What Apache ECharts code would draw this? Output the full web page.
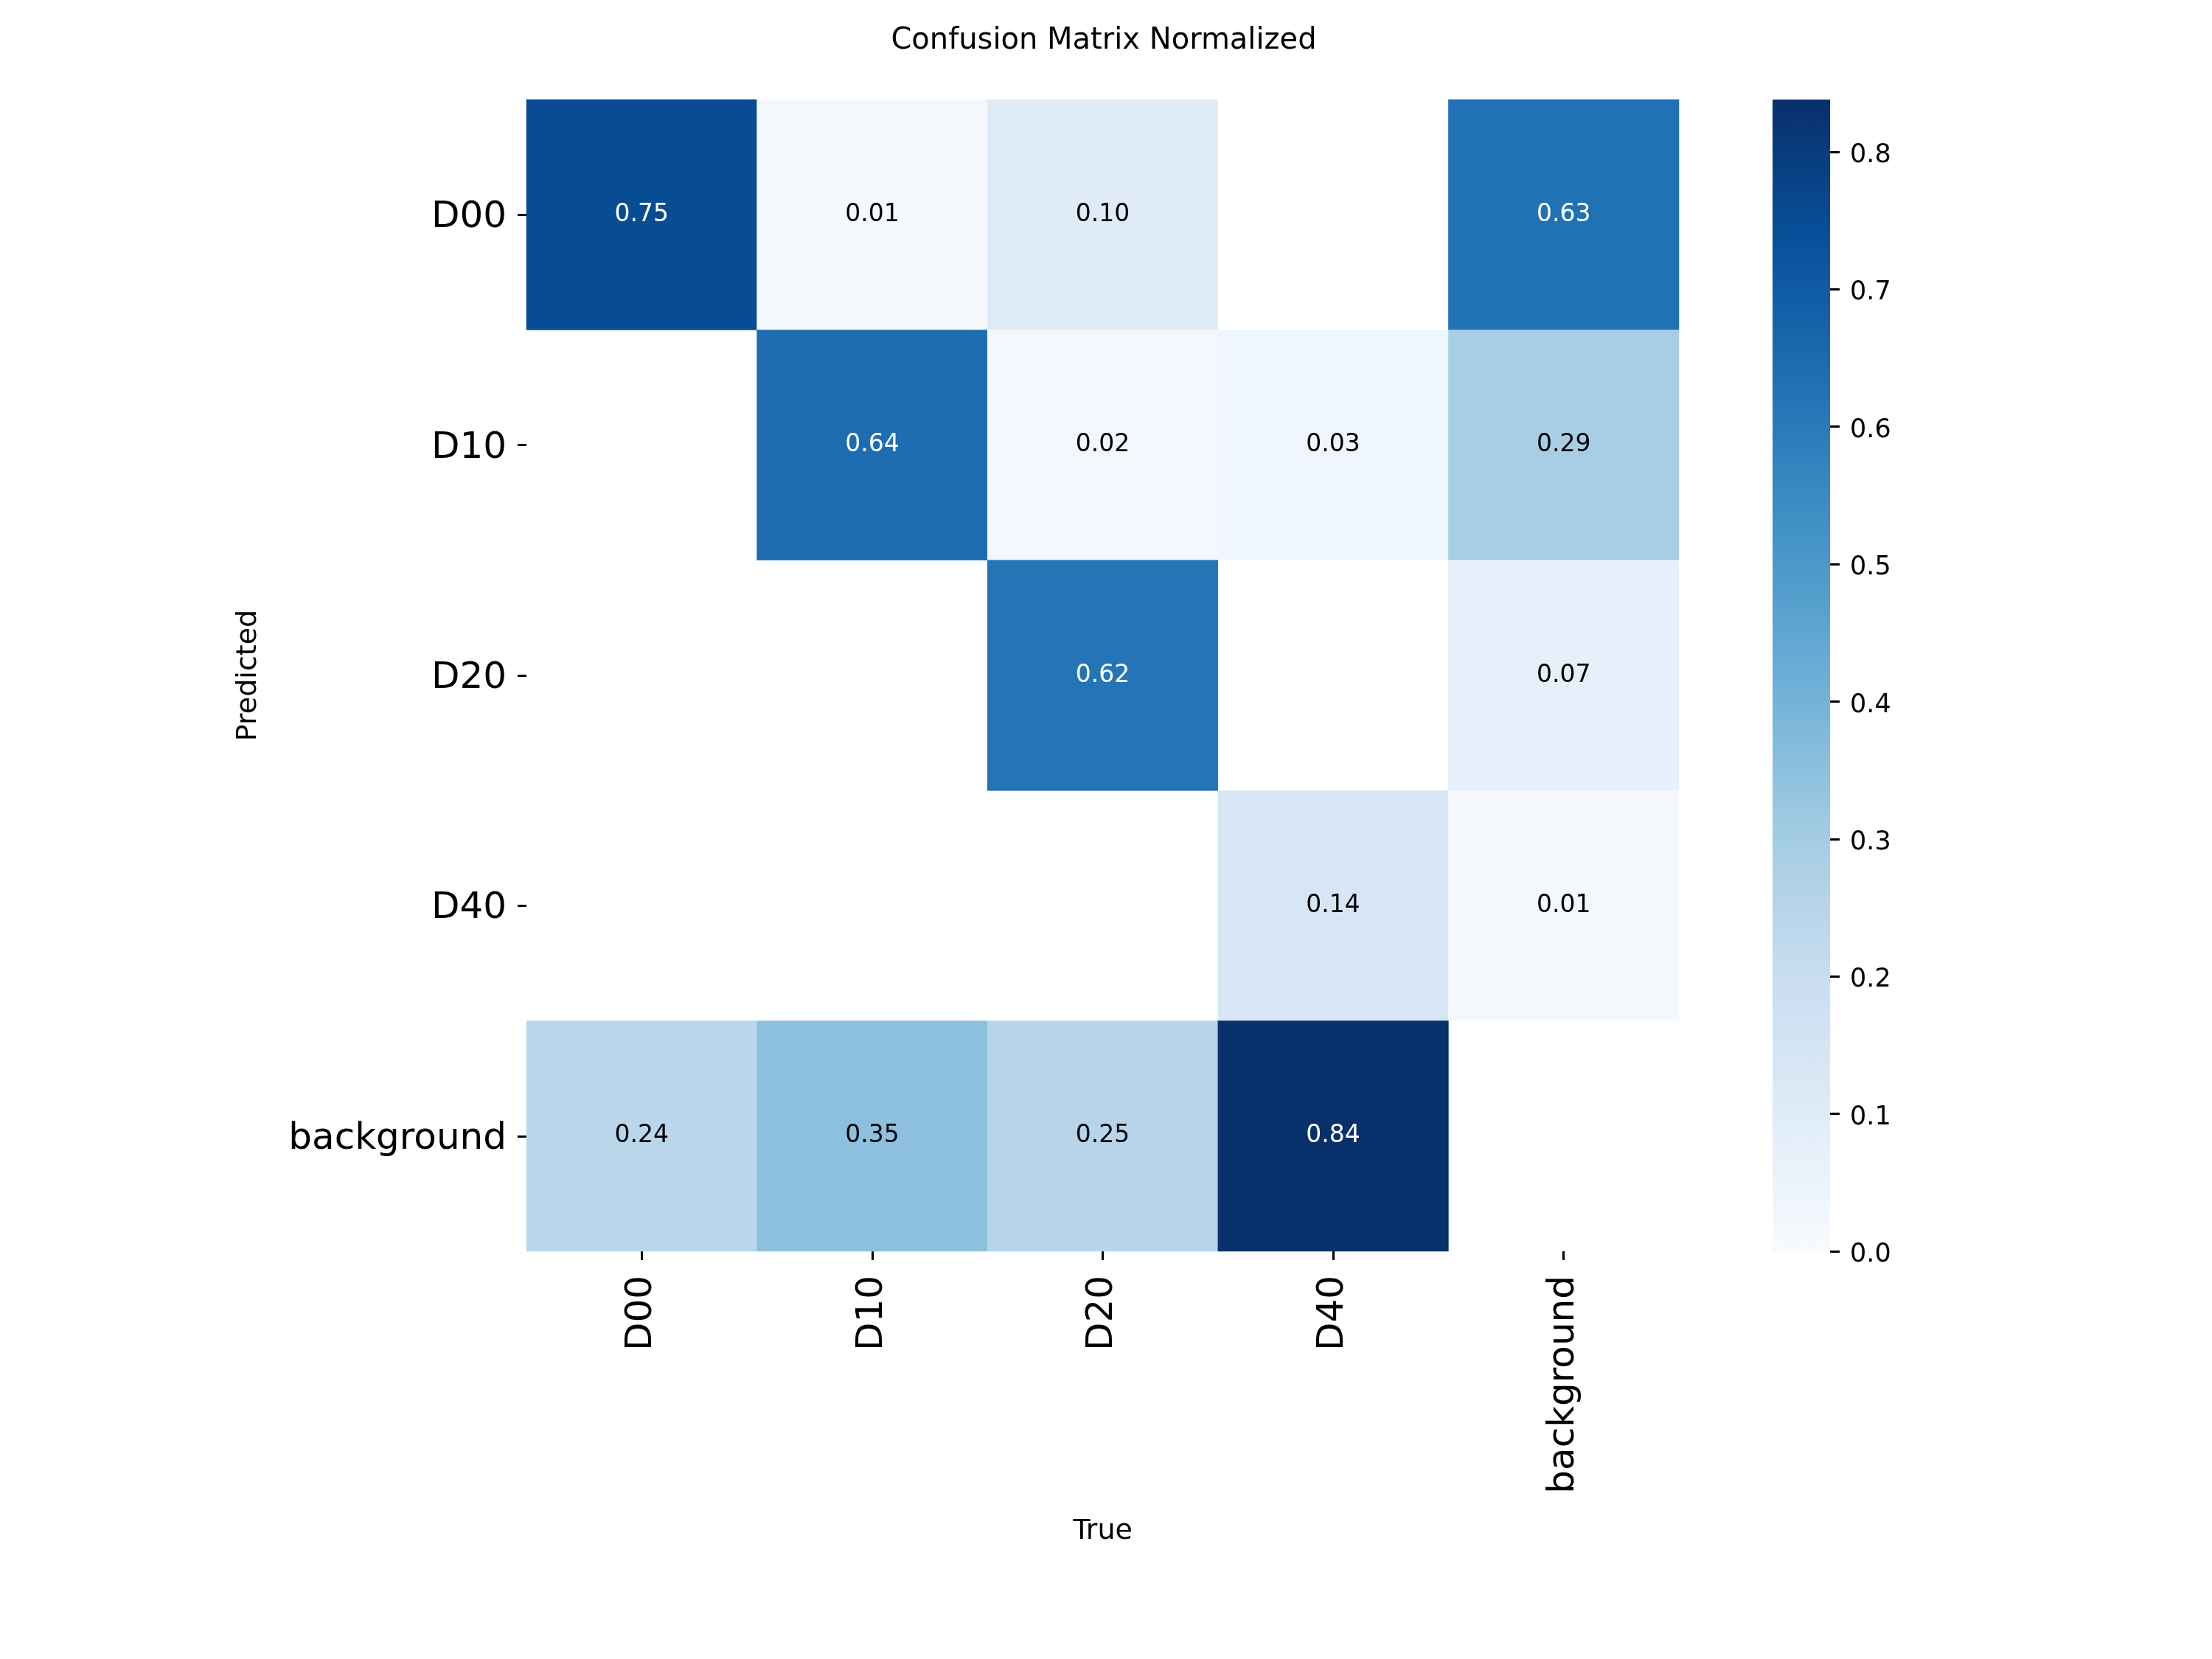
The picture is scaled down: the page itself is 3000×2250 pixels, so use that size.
<!DOCTYPE html>
<html>
<head>
<meta charset="utf-8">
<script src="https://cdn.jsdelivr.net/npm/echarts@6/dist/echarts.min.js"></script>
<style>
  html, body { margin: 0; padding: 0; background: #fff; }
  #chart { width: 3000px; height: 2250px; }
</style>
</head>
<body>
<div id="chart"></div>
<script>
// true classes (columns) and predicted classes (rows)
var trueLabels = ['D00', 'D10', 'D20', 'D40', 'background'];
var predLabels = ['D00', 'D10', 'D20', 'D40', 'background'];

// one array per predicted row, null = blank cell (value below 0.005)
var rowD00 = [0.75, 0.01, 0.10, null, 0.63];
var rowD10 = [null, 0.64, 0.02, 0.03, 0.29];
var rowD20 = [null, null, 0.62, null, 0.07];
var rowD40 = [null, null, null, 0.14, 0.01];
var rowBackground = [0.24, 0.35, 0.25, 0.838, null];

// colorbar
var barMin = 0;
var barMax = 0.838;
var barTicks = [0, 0.1, 0.2, 0.3, 0.4, 0.5, 0.6, 0.7, 0.8];

// matplotlib "Blues"
var blues = ['#f7fbff', '#deebf7', '#c6dbef', '#9ecae1', '#6baed6', '#4292c6', '#2171b5', '#08519c', '#08306b'];

var FONT = 'DejaVu Sans';

var rows = [rowD00, rowD10, rowD20, rowD40, rowBackground];
var cells = [];
rows.forEach(function (row, r) {
  row.forEach(function (v, c) {
    if (v === null) return;
    cells.push({
      value: [c, r, v],
      label: { color: v > 0.5 ? '#ffffff' : '#000000' }
    });
  });
});

// colorbar gradient, bottom (min) to top (max), same stops as the visualMap
var barGradient = new echarts.graphic.LinearGradient(0, 1, 0, 0, blues.map(function (c, i) {
  return { offset: i / (blues.length - 1), color: c };
}));

// shift text a little down so it sits like the matplotlib labels
function nudge(size, shift) {
  return { t: { fontFamily: FONT, fontSize: size, color: '#000', padding: [shift, 0, 0, 0] } };
}

var chart = echarts.init(document.getElementById('chart'));
chart.setOption({
  backgroundColor: '#ffffff',
  animation: false,
  title: {
    text: 'Confusion Matrix Normalized',
    left: 1492,
    textAlign: 'center',
    top: 31,
    textStyle: { fontFamily: FONT, fontSize: 40, fontWeight: 'normal', color: '#000' }
  },
  grid: [
    { left: 714, top: 135, width: 1563, height: 1562 },
    { left: 2404, top: 135, width: 78, height: 1562, show: true, borderWidth: 0, backgroundColor: barGradient }
  ],
  xAxis: [
    {
      type: 'category',
      gridIndex: 0,
      data: trueLabels,
      name: 'True',
      nameLocation: 'middle',
      nameGap: 361,
      nameTextStyle: { fontFamily: FONT, fontSize: 38, color: '#000' },
      axisLine: { show: false, onZero: false },
      axisTick: { show: true, alignWithLabel: true, length: 12, lineStyle: { color: '#000', width: 3 } },
      axisLabel: { rotate: 90, margin: 33, fontFamily: FONT, fontSize: 50, color: '#000' },
      splitLine: { show: false }
    },
    {
      type: 'value',
      gridIndex: 1,
      min: 0,
      max: 1,
      show: false,
      axisLine: { show: false, onZero: false },
      axisTick: { show: false },
      axisLabel: { show: false },
      splitLine: { show: false }
    }
  ],
  yAxis: [
    {
      type: 'category',
      gridIndex: 0,
      inverse: true,
      data: predLabels,
      name: 'Predicted',
      nameLocation: 'middle',
      nameGap: 358,
      nameTextStyle: { fontFamily: FONT, fontSize: 38, color: '#000' },
      axisLine: { show: false, onZero: false },
      axisTick: { show: true, alignWithLabel: true, length: 12, lineStyle: { color: '#000', width: 3 } },
      axisLabel: {
        margin: 27,
        formatter: function (v) { return '{t|' + v + '}'; },
        rich: nudge(50, 8)
      },
      splitLine: { show: false }
    },
    {
      type: 'value',
      gridIndex: 1,
      position: 'right',
      min: barMin,
      max: barMax,
      axisLine: { show: false, onZero: false },
      axisTick: { show: true, inside: false, length: 13, customValues: barTicks, lineStyle: { color: '#000', width: 3 } },
      minorTick: { show: false },
      axisLabel: {
        margin: 27,
        customValues: barTicks,
        formatter: function (v) { return '{t|' + v.toFixed(1) + '}'; },
        rich: nudge(35, 10)
      },
      splitLine: { show: false },
      splitArea: { show: false }
    }
  ],
  visualMap: {
    type: 'continuous',
    show: false,
    min: barMin,
    max: barMax,
    seriesIndex: 0,
    inRange: { color: blues }
  },
  series: [{
    type: 'heatmap',
    xAxisIndex: 0,
    yAxisIndex: 0,
    data: cells,
    label: {
      show: true,
      fontFamily: FONT,
      fontSize: 33,
      formatter: function (p) { return p.value[2].toFixed(2); }
    },
    itemStyle: { borderWidth: 0 },
    emphasis: { disabled: true }
  }]
});
</script>
</body>
</html>
